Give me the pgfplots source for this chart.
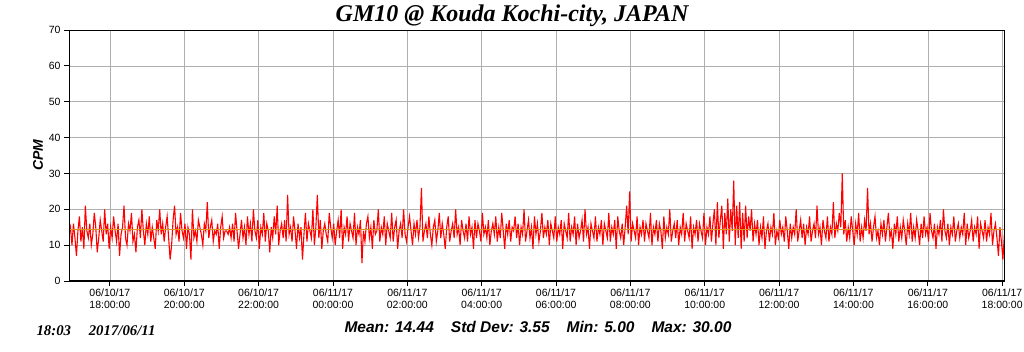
\documentclass[border=0pt]{standalone}
\usepackage{pgfplots}
\pgfplotsset{compat=1.18}
\usepackage{pgfplotstable}
\usepackage{fontspec}
\setmainfont{Liberation Sans}
\newfontfamily\timesfont{Liberation Serif}
\definecolor{meanline}{RGB}{225,150,30}
\definecolor{gridgray}{RGB}{175,175,175}
\begin{document}
\begin{tikzpicture}
\useasboundingbox (0pt,0pt) rectangle (1024pt,351pt);
\begin{axis}[
  at={(69pt,70pt)}, anchor=south west,
  scale only axis, width=935pt, height=251pt,
  xmin=-1.1, xmax=24.05, ymin=0, ymax=70,
  xtick={0,2,...,24},
  xticklabels={{06/10/17\\18:00:00},{06/10/17\\20:00:00},{06/10/17\\22:00:00},{06/11/17\\00:00:00},{06/11/17\\02:00:00},{06/11/17\\04:00:00},{06/11/17\\06:00:00},{06/11/17\\08:00:00},{06/11/17\\10:00:00},{06/11/17\\12:00:00},{06/11/17\\14:00:00},{06/11/17\\16:00:00},{06/11/17\\18:00:00}},
  x tick label style={align=center, font=\fontsize{10.5}{12}\selectfont, yshift=1pt},
  ytick={0,10,...,70},
  y tick label style={font=\fontsize{10.5}{12}\selectfont},
  /pgf/number format/assume math mode=true,
  tick align=outside, major tick length=5pt,
  tick style={black, line width=0.8pt},
  xtick pos=bottom, ytick pos=left,
  grid=major, grid style={gridgray, line width=0.6pt},
  axis line style={black, line width=0.8pt},
  clip=true,
]
\addplot[red, line width=1.1pt] table[row sep=\\, x expr=\coordindex*0.04-1.1, y=y] {
y\\
13\\ 15\\ 10\\ 16\\ 12\\ 7\\ 14\\ 18\\ 11\\ 15\\ 9\\ 21\\ 14\\ 12\\ 16\\ 10\\ 13\\ 19\\ 15\\ 8\\ 12\\ 17\\ 14\\ 11\\ 20\\ 13\\ 16\\ 9\\ 15\\ 12\\
18\\ 14\\ 11\\ 16\\ 7\\ 13\\ 15\\ 21\\ 12\\ 10\\ 16\\ 14\\ 19\\ 11\\ 13\\ 8\\ 15\\ 17\\ 12\\ 20\\ 14\\ 10\\ 16\\ 13\\ 18\\ 11\\ 15\\ 12\\ 9\\ 17\\
14\\ 20\\ 13\\ 16\\ 11\\ 15\\ 18\\ 12\\ 6\\ 10\\ 17\\ 21\\ 13\\ 15\\ 11\\ 19\\ 14\\ 12\\ 16\\ 9\\ 15\\ 13\\ 6\\ 20\\ 12\\ 14\\ 11\\ 17\\ 15\\ 13\\
10\\ 16\\ 14\\ 22\\ 12\\ 15\\ 17\\ 11\\ 14\\ 13\\ 16\\ 9\\ 15\\ 18\\ 12\\ 14\\ 14\\ 13\\ 15\\ 12\\ 16\\ 11\\ 19\\ 14\\ 9\\ 13\\ 17\\ 12\\ 15\\ 10\\
18\\ 13\\ 16\\ 11\\ 20\\ 14\\ 12\\ 17\\ 9\\ 15\\ 13\\ 19\\ 11\\ 16\\ 14\\ 8\\ 15\\ 12\\ 18\\ 13\\ 21\\ 10\\ 14\\ 16\\ 12\\ 17\\ 11\\ 24\\ 13\\ 15\\
11\\ 18\\ 14\\ 9\\ 16\\ 12\\ 15\\ 6\\ 13\\ 19\\ 11\\ 16\\ 14\\ 12\\ 20\\ 10\\ 15\\ 24\\ 12\\ 17\\ 9\\ 14\\ 16\\ 13\\ 11\\ 19\\ 15\\ 12\\ 16\\ 10\\
14\\ 17\\ 12\\ 20\\ 9\\ 15\\ 13\\ 18\\ 11\\ 16\\ 14\\ 12\\ 19\\ 10\\ 15\\ 13\\ 17\\ 5\\ 14\\ 11\\ 16\\ 18\\ 12\\ 15\\ 9\\ 17\\ 13\\ 14\\ 20\\ 11\\
15\\ 13\\ 18\\ 10\\ 16\\ 14\\ 12\\ 19\\ 11\\ 15\\ 17\\ 9\\ 14\\ 16\\ 12\\ 20\\ 13\\ 11\\ 15\\ 18\\ 14\\ 10\\ 16\\ 13\\ 17\\ 12\\ 15\\ 26\\ 11\\ 14\\
16\\ 12\\ 18\\ 13\\ 10\\ 15\\ 17\\ 11\\ 14\\ 19\\ 12\\ 16\\ 13\\ 9\\ 15\\ 18\\ 11\\ 14\\ 16\\ 12\\ 20\\ 13\\ 15\\ 10\\ 17\\ 14\\ 12\\ 16\\ 11\\ 18\\
13\\ 15\\ 9\\ 17\\ 12\\ 16\\ 14\\ 11\\ 19\\ 13\\ 15\\ 12\\ 17\\ 10\\ 14\\ 16\\ 13\\ 18\\ 11\\ 15\\ 12\\ 19\\ 14\\ 9\\ 16\\ 13\\ 17\\ 11\\ 15\\ 14\\
18\\ 12\\ 16\\ 10\\ 15\\ 13\\ 20\\ 11\\ 14\\ 17\\ 12\\ 15\\ 9\\ 18\\ 13\\ 16\\ 11\\ 14\\ 19\\ 12\\ 15\\ 13\\ 17\\ 10\\ 16\\ 14\\ 12\\ 18\\ 11\\ 15\\
13\\ 17\\ 9\\ 16\\ 14\\ 12\\ 19\\ 11\\ 15\\ 13\\ 18\\ 10\\ 16\\ 12\\ 14\\ 17\\ 11\\ 20\\ 13\\ 15\\ 9\\ 16\\ 14\\ 12\\ 18\\ 11\\ 15\\ 13\\ 17\\ 10\\
16\\ 14\\ 12\\ 19\\ 11\\ 15\\ 13\\ 17\\ 9\\ 18\\ 14\\ 12\\ 16\\ 10\\ 15\\ 21\\ 13\\ 25\\ 11\\ 16\\ 14\\ 12\\ 18\\ 10\\ 15\\ 13\\ 17\\ 11\\ 16\\ 14\\
12\\ 19\\ 10\\ 15\\ 13\\ 17\\ 11\\ 16\\ 14\\ 9\\ 18\\ 12\\ 15\\ 13\\ 20\\ 11\\ 14\\ 16\\ 12\\ 17\\ 10\\ 15\\ 13\\ 19\\ 11\\ 16\\ 14\\ 12\\ 18\\ 9\\
15\\ 13\\ 17\\ 11\\ 16\\ 14\\ 12\\ 19\\ 10\\ 15\\ 13\\ 18\\ 11\\ 16\\ 20\\ 10\\ 22\\ 12\\ 17\\ 21\\ 9\\ 19\\ 13\\ 23\\ 11\\ 20\\ 14\\ 28\\ 10\\ 21\\
12\\ 22\\ 9\\ 19\\ 11\\ 21\\ 12\\ 18\\ 14\\ 20\\ 11\\ 16\\ 13\\ 17\\ 10\\ 15\\ 12\\ 18\\ 9\\ 14\\ 16\\ 11\\ 15\\ 13\\ 19\\ 10\\ 14\\ 12\\ 17\\ 13\\
15\\ 11\\ 18\\ 14\\ 9\\ 16\\ 12\\ 15\\ 13\\ 20\\ 11\\ 14\\ 17\\ 12\\ 16\\ 10\\ 15\\ 13\\ 18\\ 11\\ 14\\ 16\\ 12\\ 21\\ 13\\ 15\\ 10\\ 17\\ 14\\ 12\\
18\\ 11\\ 15\\ 13\\ 22\\ 12\\ 16\\ 14\\ 19\\ 15\\ 30\\ 13\\ 17\\ 11\\ 15\\ 12\\ 18\\ 14\\ 10\\ 16\\ 13\\ 19\\ 11\\ 15\\ 12\\ 17\\ 14\\ 26\\ 13\\ 16\\
11\\ 15\\ 18\\ 12\\ 14\\ 10\\ 16\\ 13\\ 17\\ 11\\ 15\\ 19\\ 12\\ 14\\ 9\\ 16\\ 13\\ 18\\ 11\\ 15\\ 12\\ 17\\ 14\\ 10\\ 16\\ 13\\ 19\\ 11\\ 15\\ 12\\
17\\ 14\\ 10\\ 16\\ 12\\ 18\\ 13\\ 15\\ 11\\ 19\\ 14\\ 12\\ 16\\ 9\\ 15\\ 13\\ 17\\ 11\\ 20\\ 14\\ 12\\ 16\\ 10\\ 15\\ 13\\ 18\\ 11\\ 14\\ 16\\ 12\\
15\\ 13\\ 19\\ 10\\ 16\\ 12\\ 14\\ 17\\ 11\\ 15\\ 13\\ 18\\ 9\\ 16\\ 14\\ 12\\ 17\\ 11\\ 15\\ 13\\ 19\\ 10\\ 14\\ 16\\ 12\\ 7\\ 15\\ 11\\ 6\\ 13\\
};
\addplot[meanline, line width=0.6pt] coordinates {(-1.1,14.44) (24.05,14.44)};
\draw[black, line width=2.6pt] (rel axis cs:0,1) -- (rel axis cs:0,0) -- (rel axis cs:1,0);
\end{axis}
\node at (512pt,335pt) {\timesfont\fontsize{24}{26}\selectfont\bfseries\itshape GM10 @ Kouda Kochi-city, JAPAN};
\node[rotate=90] at (38pt,196pt) {\fontsize{14}{16}\selectfont\bfseries\itshape CPM};
\node at (538pt,24pt) {\fontsize{15.5}{17}\selectfont\bfseries\itshape Mean: 14.44\hspace{1.1em}Std Dev: 3.55\hspace{1.1em}Min: 5.00\hspace{1.1em}Max: 30.00};
\node[anchor=west] at (33pt,20pt) {\timesfont\fontsize{14.8}{16}\selectfont\bfseries\itshape 18:03\hspace{1.2em}2017/06/11};
\end{tikzpicture}
\end{document}
